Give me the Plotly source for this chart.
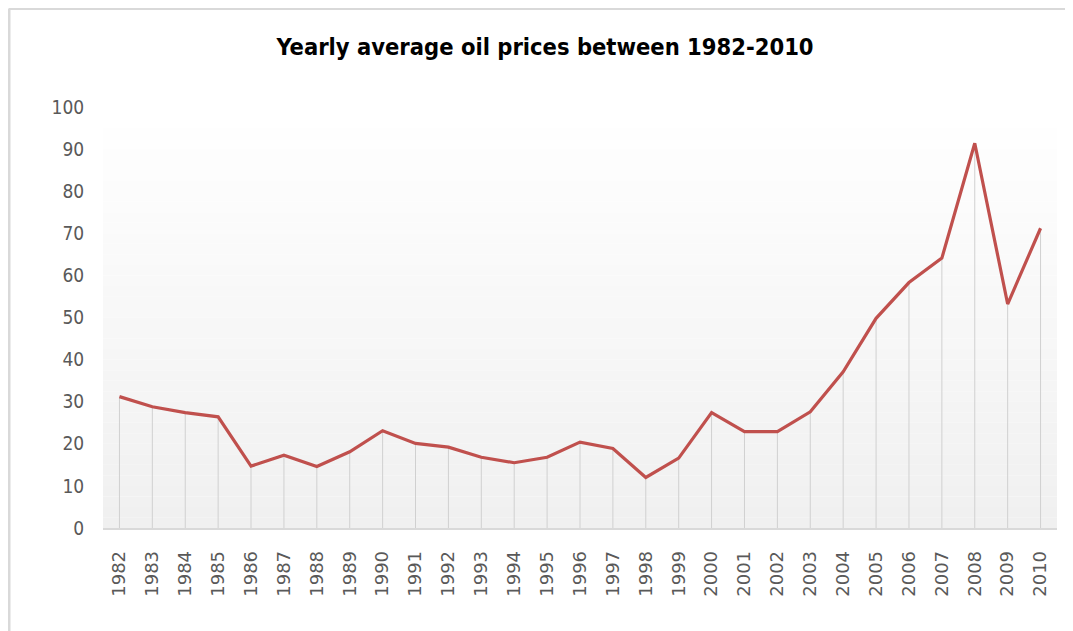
import plotly.graph_objects as go

years = [str(y) for y in range(1982, 2011)]
prices = [31.2, 28.8, 27.4, 26.4, 14.7, 17.3, 14.6, 18.1, 23.1, 20.1,
          19.2, 16.8, 15.5, 16.8, 20.4, 18.9, 12.0, 16.6, 27.4, 22.9,
          22.9, 27.6, 37.1, 49.8, 58.3, 64.1, 91.4, 53.2, 71.2]
y_ticks = list(range(0, 101, 10))
title = "Yearly average oil prices between 1982-2010"

# page has an 8px body margin, so the figure is sized/placed accordingly
W, H = 1065, 623
ML, MR, MT, MB = 95, 16, 99, 103
pw, ph = W - ML - MR, H - MT - MB

fig = go.Figure()

# drop lines from each point down to zero
fig.add_trace(go.Scatter(
    x=years, y=prices, mode="markers",
    marker=dict(size=0.1, color="rgba(0,0,0,0)"),
    error_y=dict(type="data", symmetric=False, array=[0] * len(prices),
                 arrayminus=prices, width=0, color="#d0d0d0", thickness=1),
    hoverinfo="skip", showlegend=False,
))

fig.add_trace(go.Scatter(
    x=years, y=prices, mode="lines",
    line=dict(color="#c0504d", width=3.2),
    showlegend=False,
))

# gradient plot background (white at top to light grey at bottom)
shapes = []
n = 40
for i in range(n):
    t = i / (n - 1)
    c = int(round(255 - (255 - 240) * (1 - t)))
    shapes.append(dict(type="rect", xref="paper", yref="paper",
                       x0=0, x1=1, y0=i / n, y1=(i + 1) / n,
                       fillcolor=f"rgb({c},{c},{c})", line=dict(width=0),
                       layer="below"))

# chart frame (top and left edges visible)
fx = (1 - ML) / pw
fy = (H - MB - 0.5) / ph
shapes.append(dict(type="line", xref="paper", yref="paper",
                   x0=fx, x1=(W + 20 - ML) / pw, y0=fy, y1=fy,
                   line=dict(color="#d9d9d9", width=3)))
shapes.append(dict(type="line", xref="paper", yref="paper",
                   x0=fx, x1=fx, y0=fy, y1=(-MB - 20) / ph,
                   line=dict(color="#d9d9d9", width=3)))

fig.update_layout(
    width=W, height=H,
    margin=dict(l=ML, r=MR, t=MT, b=MB),
    paper_bgcolor="white",
    plot_bgcolor="rgba(0,0,0,0)",
    shapes=shapes,
    title=dict(text=title, x=(537 - ML) / pw, xref="paper", y=1 - 39 / H,
               yanchor="middle", xanchor="center",
               font=dict(family="DejaVu Sans Condensed, sans-serif",
                         size=23.5, color="#000000", weight="bold")),
    xaxis=dict(type="category", categoryorder="array", categoryarray=years,
               range=[-0.5, len(years) - 0.5],
               showgrid=False, zeroline=False,
               showline=True, linecolor="#d9d9d9", linewidth=1.5,
               tickangle=-90, ticks="outside", ticklen=14,
               tickcolor="rgba(0,0,0,0)",
               tickfont=dict(family="DejaVu Sans, sans-serif", size=18, color="#595959")),
    yaxis=dict(range=[0, 100], tickvals=y_ticks,
               showgrid=False, zeroline=False, showline=False,
               ticks="outside", ticklen=14, tickcolor="rgba(0,0,0,0)",
               tickfont=dict(family="DejaVu Sans Condensed, sans-serif",
                             size=19, color="#595959")),
)

fig.write_html("out.html")
